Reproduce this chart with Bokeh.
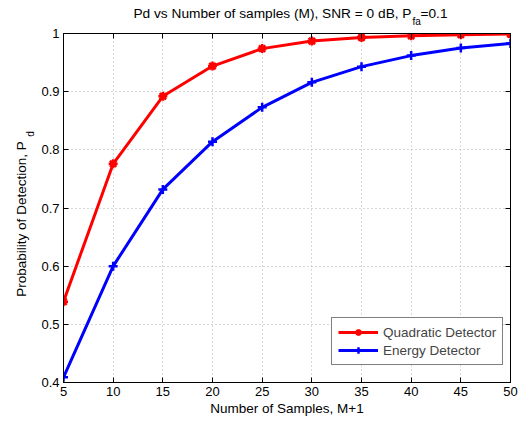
import math
from bokeh.plotting import figure
from bokeh.layouts import column, row
from bokeh.models import (Range1d, FixedTicker, NumeralTickFormatter, LinearAxis,
                          CustomJSTickFormatter, Label, Legend)
from bokeh.embed import file_html
from bokeh.resources import INLINE

samples = [5, 10, 15, 20, 25, 30, 35, 40, 45, 50]
quadratic = [0.539, 0.776, 0.892, 0.944, 0.974, 0.987, 0.993, 0.996, 0.998, 0.999]
energy = [0.409, 0.600, 0.732, 0.814, 0.873, 0.916, 0.943, 0.962, 0.975, 0.983]
x_ticks = [5, 10, 15, 20, 25, 30, 35, 40, 45, 50]
y_ticks = [0.4, 0.5, 0.6, 0.7, 0.8, 0.9, 1.0]

FONT = "Liberation Sans"
FS = "13px"
FS_LBL = "13.5px"


def text_panel(w, h):
    f = figure(width=w, height=h, output_backend="svg", toolbar_location=None,
               x_range=Range1d(0, 1), y_range=Range1d(0, 1),
               x_axis_type=None, y_axis_type=None, min_border=0)
    f.outline_line_color = None
    f.background_fill_color = "white"
    f.border_fill_color = "white"
    return f


def add_text(f, **kw):
    f.add_layout(Label(x_units="screen", y_units="screen", text_font=FONT,
                       text_baseline="middle", text_color="black", **kw))


# Y label strip (full height, left)
yfig = text_panel(36, 424)
add_text(yfig, x=21, y=424 - 218.5, text="Probability of Detection, P", text_font_size=FS_LBL,
         text_align="center", angle=math.pi / 2)
add_text(yfig, x=30, y=424 - 133.5, text="d", text_font_size="10px", text_align="center",
         angle=math.pi / 2)

# Title strip (its frame is aligned with the main plot frame, which starts at x=63)
TH = 25
tfig = text_panel(488, TH)
add_text(tfig, x=411 - 63, y=TH - 13, text="Pd vs Number of samples (M), SNR = 0 dB, P",
         text_font_size="13.7px", text_align="right")
add_text(tfig, x=412 - 63, y=TH - 20.5, text="fa", text_font_size="10px", text_align="left")
add_text(tfig, x=420 - 63, y=TH - 13, text="=0.1", text_font_size="13.7px", text_align="left")

# Main plot
p = figure(width=488, height=424 - TH, output_backend="svg", toolbar_location=None,
           x_range=Range1d(5, 50), y_range=Range1d(0.4, 1.0),
           min_border_left=27, min_border_right=14, min_border_top=33 - TH, min_border_bottom=42)
p.outline_line_color = "black"
p.outline_line_width = 1
p.background_fill_color = "white"
p.border_fill_color = "white"

for ax, ticks in ((p.xaxis[0], x_ticks), (p.yaxis[0], y_ticks)):
    ax.ticker = FixedTicker(ticks=ticks)
    ax.major_tick_in = 5
    ax.major_tick_out = 0
    ax.minor_tick_line_color = None
    ax.axis_line_color = "black"
    ax.major_tick_line_color = "black"
    ax.major_label_text_font = FONT
    ax.major_label_text_font_size = FS
    ax.major_label_text_color = "black"
    ax.axis_label_text_font = FONT
    ax.axis_label_text_font_size = FS_LBL
    ax.axis_label_text_font_style = "normal"
    ax.axis_label_text_color = "black"
p.yaxis[0].formatter = NumeralTickFormatter(format="0.[0]")
p.yaxis[0].major_label_standoff = 4
p.xaxis[0].axis_label = "Number of Samples, M+1"
p.xaxis[0].major_label_standoff = 4
p.xaxis[0].axis_label_standoff = 2

for loc, ticks in (("above", x_ticks), ("right", y_ticks)):
    ax = LinearAxis(ticker=FixedTicker(ticks=ticks),
                    formatter=CustomJSTickFormatter(code="return ''"))
    ax.major_tick_in = 5
    ax.major_tick_out = 0
    ax.minor_tick_line_color = None
    ax.axis_line_color = "black"
    ax.major_label_standoff = 0
    ax.major_label_text_font_size = "0px"
    p.add_layout(ax, loc)

p.xgrid.ticker = FixedTicker(ticks=x_ticks)
p.ygrid.ticker = FixedTicker(ticks=y_ticks)
for g in (p.xgrid[0], p.ygrid[0]):
    g.grid_line_color = "#b0b0b0"
    g.grid_line_dash = "1 3"
    g.grid_line_width = 1

r1 = p.line(samples, quadratic, line_color="#ff0000", line_width=3)
s1 = p.scatter(samples, quadratic, marker="asterisk", size=9, line_color="#ff0000", line_width=2.5)
r2 = p.line(samples, energy, line_color="#0000ff", line_width=3)
s2 = p.scatter(samples, energy, marker="cross", size=9, line_color="#0000ff", line_width=2.5)

legend = Legend(items=[("Quadratic Detector", [r1, s1]), ("Energy Detector", [r2, s2])],
                location=(268, 17), label_text_font=FONT, label_text_font_size=FS_LBL,
                glyph_width=40, glyph_height=16, label_height=16, spacing=2, padding=6,
                margin=0, border_line_color="black", border_line_width=1,
                background_fill_color="white", background_fill_alpha=1.0)
p.add_layout(legend, "center")

layout = row(yfig, column(tfig, p, spacing=0), spacing=0)

open("out.html", "w").write(file_html(layout, INLINE))
